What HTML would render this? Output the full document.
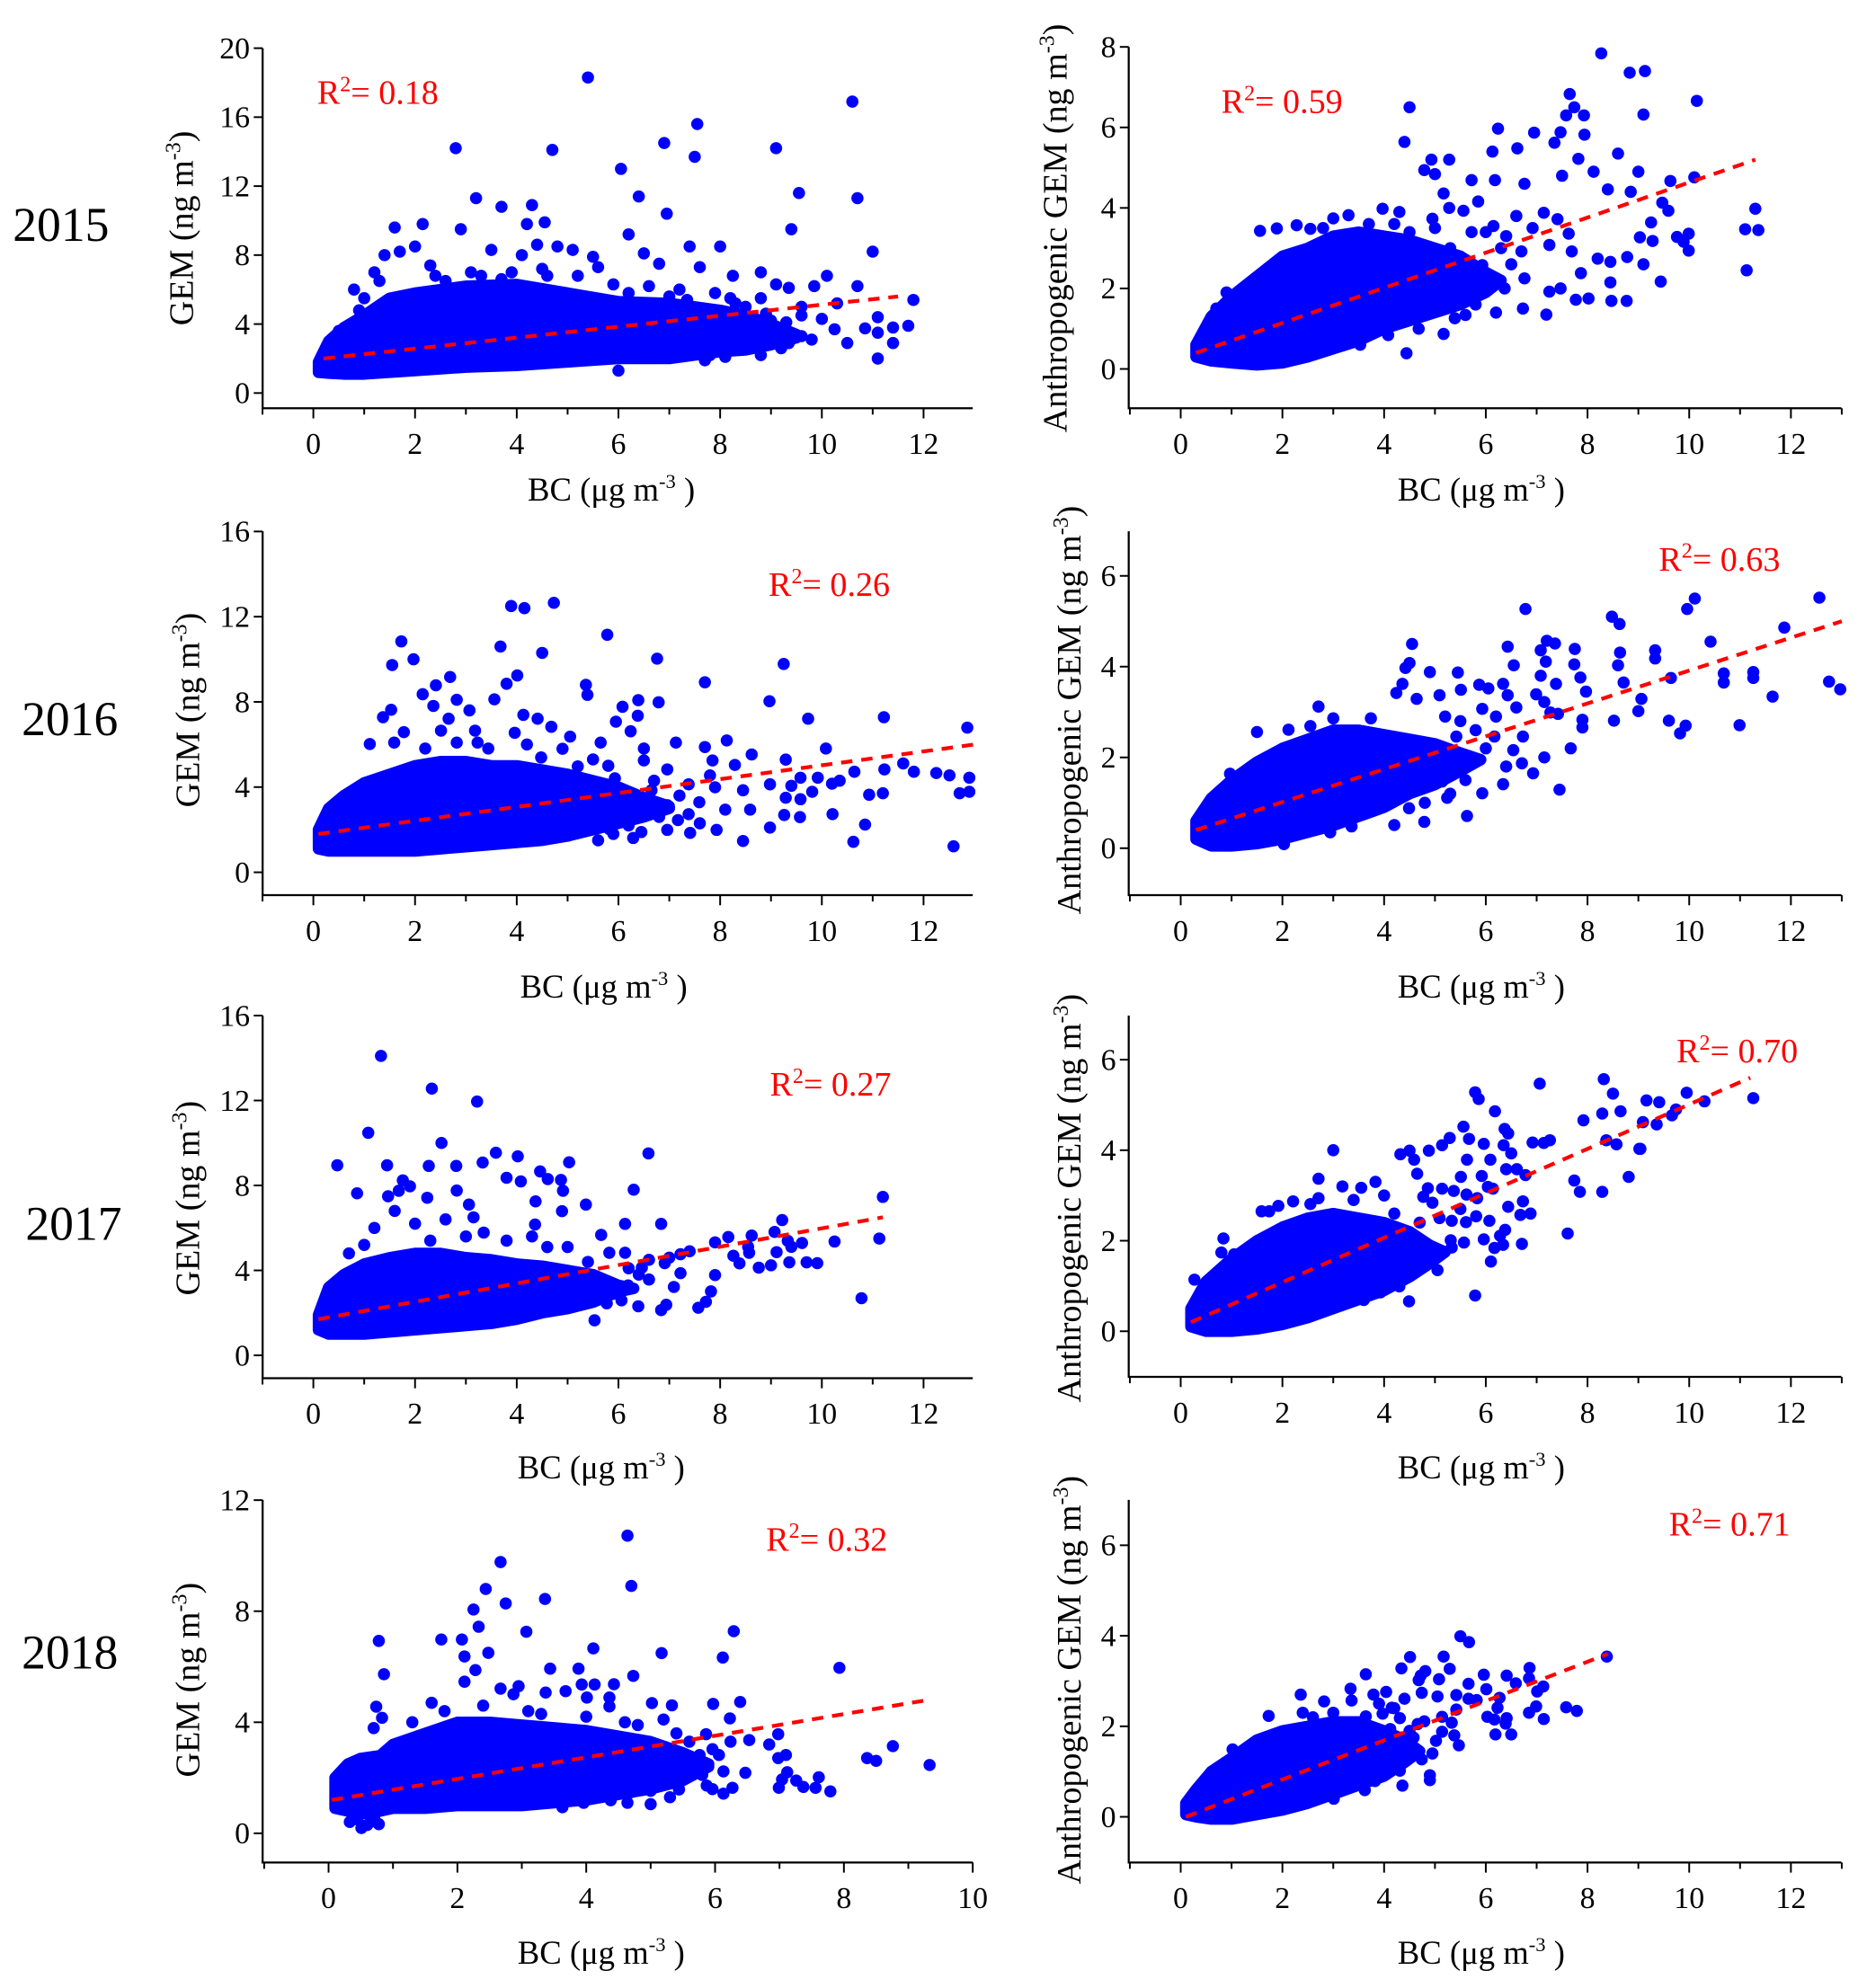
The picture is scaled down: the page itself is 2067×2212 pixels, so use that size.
<!DOCTYPE html>
<html><head><meta charset="utf-8"><style>
html,body{margin:0;padding:0;background:#fff}
svg{display:block}
text{font-family:"Liberation Serif",serif}
</style></head><body>
<svg id="fig" width="2067" height="2212" viewBox="0 0 1465 1568" xmlns="http://www.w3.org/2000/svg"></svg>
<script>
// ---------- DATA ----------
const xTicksWide = [0,2,4,6,8,10,12];
const xTicks2018L = [0,2,4,6,8,10];
const yTicksP1 = [0,4,8,12,16,20];
const yTicksP2 = [0,2,4,6,8];
const yTicksP3 = [0,4,8,12,16];
const yTicksP4 = [0,2,4,6];
const yTicksP7 = [0,4,8,12];
const r2Labels = ["0.18","0.59","0.26","0.63","0.27","0.70","0.32","0.71"];
const years = ["2015","2016","2017","2018"];

const p1CoreBC=[0.1,0.3,0.6,1,1.5,2,3,4,5,6,7,7.5,8,8.5,9,9.5];
const p1CoreHi=[1.8,3,3.8,4.5,5.5,5.8,6.2,6.3,5.8,5.3,5.2,5,4.8,4.5,4,3.4];
const p1CoreLo=[1.2,1.15,1.1,1.1,1.2,1.3,1.5,1.6,1.8,2.0,2.0,2.2,2.4,2.5,2.8,3.2];
const p1Pts=[[5.4,18.3],[10.6,16.9],[7.55,15.6],[2.8,14.2],[4.7,14.1],[6.9,14.5],[7.5,13.7],[9.1,14.2],[6.05,13],[6.4,11.4],[9.55,11.6],[10.7,11.3],[3.2,11.3],[3.7,10.8],[4.3,10.9],[6.95,10.4],[9.4,9.5],[11,8.2],[6.2,9.2],[1.6,9.6],[2.15,9.8],[2.9,9.5],[8,8.5],[7.4,8.5],[4.55,9.9],[6.5,8.1],[5.5,7.9],[8.8,7],[10.1,6.8],[10.7,6.2],[11.8,5.4],[11.7,3.9],[11.4,3.8],[10.85,3.75],[11.1,2],[10.5,2.9],[11.4,2.9],[11.1,3.5],[11.1,4.4],[10.25,3.7],[9.8,3.1],[9.35,2.9],[10,4.3],[9.3,4.1],[9.35,6.1],[9.1,6.3],[9.85,6.2],[6,1.3],[8.25,6.8],[7.8,2.2],[8.8,2.2],[8.4,2.7],[7.25,4.3],[6.9,3.5],[7.35,5.4],[0.8,6],[1.2,7],[1.4,8],[1.7,8.2],[2,8.5],[2.3,7.4],[2.6,6.5],[3.1,7],[3.5,8.3],[4.1,8],[4.2,9.8],[4.4,8.6],[4.8,8.5],[5.1,8.3],[5.6,7.3],[6.8,7.5],[7.6,7.3],[4.5,7.2],[3.3,6.8],[6.6,6.2],[7.2,6],[8.2,5.5],[8.5,5],[1,5.5],[1.3,6.5],[2.4,6.8],[3.9,7],[5.2,6.8],[5.9,6.3],[9.6,5],[10.3,5.2],[9,3.5],[9.6,3.3],[8.9,4.6],[7.7,3.2],[8.6,3.2],[9,4.2],[9.2,2.6],[8.3,5.2],[8.8,5.5],[7.9,5.8],[9.6,4.5],[0.5,3.6],[0.9,4.8],[4.6,6.8],[3.7,6.6],[6.2,5.8],[7,5.6],[7.7,1.9],[8.1,2.1]];
const p1FitX=[0.2,11.5], p1FitY=[2.0,5.6];

const p2CoreBC=[0.3,0.6,1,1.5,2,2.5,3,3.5,4,4.5,5,5.5,6,6.3];
const p2CoreHi=[0.6,1.3,1.8,2.3,2.8,3.0,3.3,3.4,3.3,3.2,3.0,2.8,2.4,2.2];
const p2CoreLo=[0.3,0.2,0.15,0.1,0.15,0.3,0.5,0.7,1.0,1.2,1.4,1.6,1.9,2.2];
const p2Pts=[[8.27,7.84],[8.83,7.36],[9.13,7.4],[10.15,6.66],[9.1,6.32],[4.5,6.5],[4.4,5.64],[7.65,6.83],[7.74,6.5],[7.58,6.3],[7.93,6.3],[6.24,5.97],[6.95,5.87],[7.35,5.62],[7.47,5.88],[7.94,5.82],[6.13,5.4],[6.62,5.48],[8.6,5.35],[4.93,5.2],[5.28,5.2],[4.79,4.94],[5,4.84],[7.82,5.22],[9,4.9],[8.12,4.9],[5.72,4.69],[6.18,4.69],[9.63,4.67],[10.1,4.76],[6.76,4.6],[7.5,4.8],[9.47,4.13],[8.85,4.4],[8.4,4.46],[11.3,3.98],[11.1,3.47],[11.36,3.45],[11.13,2.45],[9.25,3.64],[9.59,3.93],[9.03,3.27],[9.28,3.18],[9.76,3.28],[9.99,3.36],[9.89,3.16],[9.99,2.94],[9.1,2.6],[9.44,2.17],[8.77,1.69],[8.47,1.69],[7.77,1.72],[8.02,1.75],[7.19,1.35],[6.73,1.5],[4.44,0.39],[8.45,2.15],[7.87,2.38],[8.2,2.74],[8.78,2.78],[8.45,2.66],[7.25,1.92],[7.47,2],[7.69,2.92],[7.25,3.08],[7.63,3.36],[7.14,3.88],[7.41,3.72],[6.92,3.5],[6.7,2.92],[6.76,2.25],[6.37,2],[5.93,2.58],[5.72,3.4],[5.56,3.93],[5.85,4.16],[6.15,3.55],[5.17,4.36],[5.28,4],[4.3,3.9],[3.97,3.98],[3.3,3.82],[3,3.74],[2.55,3.48],[2.28,3.57],[1.56,3.43],[1.89,3.49],[5.17,0.87],[4.68,1],[5.39,1.26],[5.6,1.34],[4.5,1.42],[4.95,1.58],[4.08,0.84],[3.53,0.6],[3.2,0.68],[3.86,2.17],[4.4,2],[4.73,2.9],[4.5,3.4],[4.95,3.73],[6.3,3],[6.5,2.6],[5.5,2.4],[6,3.4],[5.3,3],[0.9,1.9],[0.7,1.5],[6.4,3.3],[6.0,2.1],[6.6,3.8],[5.8,1.6],[6.2,1.4],[5.0,3.5],[4.2,3.6],[3.7,3.6],[2.8,3.5]];
const p2FitX=[0.3,11.3], p2FitY=[0.4,5.2];

const p3CoreBC=[0.1,0.3,0.6,1,1.5,2,2.5,3,3.5,4,4.5,5,5.5,6,6.5,7];
const p3CoreHi=[2,3,3.6,4.2,4.6,5,5.2,5.2,5,5,4.8,4.6,4.3,4,3.5,3.1];
const p3CoreLo=[1.1,1,1,1,1,1,1.1,1.2,1.3,1.4,1.5,1.7,2,2.3,2.6,3.0];
const p3Pts=[[3.89,12.5],[4.15,12.4],[4.73,12.65],[5.78,11.15],[1.73,10.84],[3.68,10.6],[4.5,10.3],[1.97,10],[1.55,9.73],[6.76,10.03],[9.25,9.78],[4.01,9.24],[2.69,9.17],[7.7,8.92],[5.36,8.8],[2.41,8.78],[3.8,8.85],[2.15,8.36],[5.39,8.33],[2.82,8.1],[8.97,8.03],[6.79,7.98],[6.39,8.08],[3.56,8.12],[6.08,7.77],[2.36,7.81],[1.53,7.63],[3.07,7.6],[11.22,7.28],[9.73,7.21],[4.13,7.39],[4.41,7.21],[5.95,7.07],[6.38,7.35],[12.86,6.79],[6.24,6.62],[4.68,6.83],[3.96,6.55],[5.05,6.37],[5.65,6.09],[8.13,6.19],[10.08,5.81],[8.62,5.53],[7.13,6.09],[7.7,5.88],[7.85,5.25],[8.29,5.04],[9.29,5.29],[11.6,5.11],[11.23,4.83],[11.81,4.72],[12.25,4.66],[12.51,4.55],[12.9,4.44],[10.64,4.72],[9.92,4.44],[9.58,4.44],[8.98,4.13],[9.4,4.06],[10.2,4.16],[10.35,4.3],[9.81,3.78],[9.58,3.43],[9.29,3.5],[10.93,3.64],[11.2,3.71],[12.71,3.71],[12.9,3.78],[8.45,3.85],[8.59,2.94],[8.1,2.94],[9.26,2.69],[9.57,2.59],[10.21,2.73],[10.85,2.24],[8.98,2.1],[7.93,1.99],[7.41,1.85],[6.96,1.99],[8.45,1.47],[10.62,1.43],[12.59,1.22],[5.6,1.5],[6.29,1.61],[6.45,1.89],[5.82,2.03],[7.17,2.45],[7.38,2.73],[6.96,3.15],[7.59,3.29],[6.65,3.85],[7.38,4.13],[7.9,3.99],[7.8,4.55],[6.96,4.83],[6.5,5.25],[6.5,5.81],[5.93,4.41],[5.2,4.97],[4.48,5.39],[3.44,5.81],[2.82,6.09],[2.2,5.81],[1.59,6.09],[1.11,6.02],[1.37,7.28],[1.78,6.58],[2.51,6.65],[3.18,6.65],[2.66,7.21],[3.23,6.09],[4.2,6],[4.9,5.8],[5.5,5.3],[6.8,2.6],[7.2,3.6],[6.2,2.2],[5.9,1.8],[7.6,2.3],[6.7,4.3],[5.8,5.0]];
const p3FitX=[0.1,13], p3FitY=[1.8,6.0];

const p4CoreBC=[0.3,0.6,1,1.5,2,2.5,3,3.5,4,4.5,5,5.5,5.9];
const p4CoreHi=[0.6,1.1,1.5,1.9,2.2,2.4,2.6,2.6,2.5,2.4,2.3,2.1,1.95];
const p4CoreLo=[0.2,0.05,0.05,0.1,0.2,0.35,0.5,0.7,0.9,1.2,1.4,1.7,1.95];
const p4Pts=[[6.78,5.27],[10.11,5.5],[9.96,5.27],[12.56,5.52],[8.48,5.1],[8.63,4.94],[11.87,4.86],[4.55,4.5],[7.2,4.57],[7.36,4.51],[6.43,4.44],[7.75,4.39],[7.08,4.36],[9.33,4.36],[10.42,4.55],[8.64,4.31],[9.33,4.18],[7.18,4.11],[4.5,4.08],[6.55,4.03],[7.74,4.05],[8.6,4.03],[4.42,3.97],[4.9,3.88],[5.45,3.87],[7.08,3.8],[7.86,3.76],[10.68,3.85],[11.26,3.88],[9.64,3.75],[12.75,3.67],[12.97,3.5],[10.68,3.65],[11.26,3.75],[8.71,3.65],[7.38,3.62],[7.97,3.45],[6.34,3.62],[5.87,3.6],[6.05,3.52],[5.51,3.49],[4.36,3.62],[4.24,3.42],[5.09,3.37],[9.06,3.29],[6.99,3.39],[7.15,3.22],[6.43,3.37],[11.64,3.34],[9,3.02],[8.52,2.81],[9.6,2.81],[9.93,2.7],[10.99,2.71],[9.82,2.53],[4.64,3.29],[5.93,3.07],[7.27,2.99],[7.9,2.83],[7.9,2.66],[7.42,2.96],[7.45,1.29],[6.93,1.65],[6.71,1.87],[6.34,1.41],[5.93,1.21],[5.63,0.71],[4.79,0.58],[4.2,0.51],[5.24,1.11],[7.15,2],[7.67,2.2],[6.54,2.16],[6.17,2.46],[6.73,2.46],[5.42,2.46],[5.79,1.93],[5.14,1.47],[4.67,1.47],[4.95,2.07],[4.3,2.07],[3.93,1.27],[4.49,0.88],[3.46,0.88],[2.94,0.35],[3.36,0.48],[2.71,3.12],[1.5,2.56],[2.12,2.61],[2.55,2.69],[3,2.86],[3.74,2.86],[0.97,1.64],[0.87,1.31],[0.37,0.65],[2.03,0.09],[5.5,2.8],[5.8,2.6],[5.2,2.9],[6.2,2.9],[5.6,1.5],[6.0,2.2],[6.4,1.8],[5.3,1.2],[4.8,1.0],[4.0,1.0],[6.6,3.1]];
const p4FitX=[0.3,13], p4FitY=[0.4,5.0];

const p5CoreBC=[0.1,0.3,0.6,1,1.5,2,2.5,3,3.5,4,4.5,5,5.5,6,6.3];
const p5CoreHi=[1.9,3.2,3.8,4.3,4.6,4.8,4.8,4.6,4.5,4.3,4.2,4,3.8,3.3,3.15];
const p5CoreLo=[1.2,1,1,1,1.1,1.2,1.3,1.4,1.5,1.7,2,2.2,2.5,3.0,3.15];
const p5Pts=[[1.33,14.1],[2.33,12.56],[3.22,11.95],[1.08,10.48],[2.52,10],[6.59,9.51],[3.59,9.54],[4.02,9.37],[0.47,8.95],[1.45,8.95],[5.03,9.09],[3.33,9.08],[2.81,8.92],[2.27,8.92],[4.46,8.66],[4.87,8.26],[4.61,8.3],[3.8,8.36],[4.08,8.19],[1.76,8.24],[1.9,7.96],[6.3,7.8],[4.91,7.75],[2.82,7.76],[1.68,7.75],[0.86,7.63],[2.24,7.42],[11.2,7.46],[1.47,7.49],[3.06,7.1],[5.36,7.1],[4.37,7.25],[3.15,6.5],[4.89,6.79],[6.13,6.19],[6.84,6.19],[9.22,6.37],[4.36,6.16],[3.35,5.78],[5.66,5.67],[8.16,5.57],[8.62,5.64],[9.07,5.81],[11.13,5.5],[7.9,5.32],[9.33,5.39],[9.61,5.29],[10.25,5.36],[8.55,5.11],[9.11,4.86],[9.4,5.11],[8.26,4.69],[8.57,4.83],[8.76,4.13],[9,4.24],[9.36,4.38],[9.7,4.38],[9.91,4.34],[8.38,4.33],[7.9,3.78],[7.22,3.87],[7.82,3.01],[7.72,2.52],[7.57,2.24],[7.09,3.22],[6.94,2.38],[6.84,2.13],[10.78,2.69],[6.39,2.31],[6.06,2.59],[5.77,2.45],[5.53,1.65],[5.15,2.45],[4.87,2.17],[6.19,3.29],[6.6,3.57],[6.91,4.34],[7.22,4.76],[6.46,4.13],[5.82,4.83],[6.13,4.83],[1.2,6],[1.6,6.8],[2,6.2],[2.6,6.4],[3,5.6],[3.8,5.4],[4.3,5.6],[1.0,5.2],[0.7,4.8],[5.4,4.4],[6.2,4.1],[6.6,4.5],[7.0,4.6],[7.4,4.9],[6.4,3.8],[5.9,2.9],[4.6,5.1],[5.0,5.1],[2.3,5.4]];
const p5FitX=[0.1,11.2], p5FitY=[1.7,6.5];

const p6CoreBC=[0.2,0.5,1,1.5,2,2.5,3,3.5,4,4.5,4.9,5.2];
const p6CoreHi=[0.5,1.1,1.6,2.0,2.3,2.5,2.6,2.5,2.4,2.2,1.9,1.75];
const p6CoreLo=[0.1,0,0,0.05,0.15,0.3,0.5,0.7,0.9,1.2,1.5,1.75];
const p6Pts=[[8.32,5.57],[7.06,5.47],[5.79,5.28],[5.86,5.13],[8.5,5.25],[9.95,5.27],[9.16,5.1],[9.41,5.06],[10.3,5.08],[11.26,5.15],[6.18,4.86],[8.65,4.86],[8.29,4.81],[9.74,4.9],[9.66,4.77],[7.92,4.66],[9.09,4.62],[9.36,4.57],[5.56,4.52],[6.37,4.47],[6.44,4.37],[5.67,4.25],[5.29,4.27],[6.92,4.17],[7.14,4.16],[7.26,4.22],[8.37,4.22],[8.57,4.13],[9.04,4.03],[3,4],[5.96,4.14],[6.35,4.11],[5.14,4.11],[4.88,3.99],[4.32,3.91],[4.5,3.99],[4.59,3.79],[5.63,3.79],[6.09,3.79],[6.5,3.93],[6.4,3.58],[6.61,3.58],[6.78,3.45],[5.51,3.41],[5.92,3.43],[4.65,3.48],[7.74,3.33],[7.85,3.08],[8.29,3.08],[8.81,3.41],[9.02,4.03],[6.04,3.19],[6.14,3.15],[5.62,3.02],[5.83,2.94],[4.86,3.16],[5.14,3.15],[5.37,3.1],[4.77,2.97],[4.95,2.84],[5.09,2.5],[5.33,2.44],[5.61,2.41],[5.81,2.54],[6.07,2.44],[6.44,2.75],[6.73,2.87],[6.68,2.57],[6.88,2.6],[7.61,2.16],[6.38,2.24],[6.28,2.11],[5.96,2.03],[5.57,1.96],[5.31,2.01],[5.33,1.85],[6.17,1.84],[6.34,1.91],[6.71,1.93],[6.1,1.54],[5.05,1.35],[5.79,0.79],[4.49,1.58],[4.67,1.72],[4.3,0.99],[4.49,0.66],[3.93,0.86],[3.6,0.69],[3.32,0.79],[3.83,3.3],[3.55,3.17],[3.18,3.2],[2.71,3.37],[2.71,2.94],[2.55,2.81],[2.21,2.87],[1.92,2.77],[1.59,2.65],[1.74,2.65],[0.84,2.05],[0.8,1.74],[1.05,1.7],[0.27,1.14],[4.2,2.6],[4.4,2.2],[4,1.8],[4.0,3.0],[3.4,2.9],[4.2,1.3],[3.7,1.1],[5.5,2.7],[4.7,2.4]];
const p6FitX=[0.2,11.2], p6FitY=[0.2,5.6];

const p7CoreBC=[0.1,0.3,0.5,0.8,1,1.5,2,2.5,3,3.5,4,4.5,5,5.5,5.9];
const p7CoreHi=[2,2.5,2.7,2.8,3.2,3.6,4,4,3.9,3.8,3.7,3.5,3.3,2.9,2.5];
const p7CoreLo=[0.9,0.8,0.7,0.8,0.9,0.9,1,1,1,1.1,1.2,1.4,1.6,1.9,2.4];
const p7Pts=[[4.64,10.72],[2.67,9.77],[4.7,8.91],[2.44,8.8],[3.36,8.44],[2.75,8.28],[2.25,8.06],[2.33,7.44],[6.29,7.28],[3.07,7.26],[0.78,6.93],[1.75,6.98],[2.07,6.98],[4.11,6.66],[2.48,6.5],[5.17,6.49],[2.11,6.37],[6.12,6.33],[7.93,5.96],[0.86,5.73],[2.28,5.88],[3.44,5.93],[3.88,5.93],[4.73,5.67],[2.11,5.46],[3.93,5.36],[4.13,5.36],[4.43,5.37],[2.67,5.21],[2.95,5.3],[3.37,5.07],[3.68,5.12],[2.87,5.01],[4.01,4.89],[4.36,4.89],[6.39,4.73],[5.97,4.66],[5.33,4.61],[5.02,4.69],[4.36,4.57],[0.74,4.56],[1.6,4.7],[0.83,4.16],[6.23,4.14],[0.7,3.79],[6.98,3.57],[6.84,3.2],[8.76,3.14],[8.36,2.71],[8.5,2.61],[9.33,2.46],[7.1,2.82],[6.98,2.71],[6.47,2.18],[6.13,2.23],[7.12,2.2],[7.61,2.02],[7.04,1.94],[7.26,1.9],[7.37,1.67],[7.56,1.64],[7.79,1.51],[6.99,1.64],[5.87,1.72],[5.96,1.59],[6.13,1.43],[6.27,1.64],[5.44,1.58],[5.22,1.8],[5,1.53],[5,1.05],[4.64,1.1],[4.38,1.19],[4.69,1.48],[5.96,3.03],[5.86,3.57],[6.24,3.3],[6.53,3.36],[5.63,2.61],[5.33,2.39],[5.51,2.82],[5.76,2.82],[6.06,2.82],[4.94,2.61],[4.73,2.18],[4.12,1.96],[3.8,1.53],[3.47,1.21],[3.96,1.1],[3.63,0.94],[0.33,0.41],[0.65,0.41],[0.78,0.33],[0.51,0.19],[0.71,0.62],[0.5,1.55],[0.6,0.3],[0.45,0.5],[1.8,4.4],[2.4,4.6],[3.1,4.4],[1.3,4.0],[5.4,3.6],[5.2,4.1],[4.6,4.0],[5.6,3.3],[5.8,2.1],[5.3,1.3],[4.8,3.9],[4.0,4.2],[3.3,4.3]];
const p7FitX=[0.05,9.3], p7FitY=[1.2,4.8];

const p8CoreBC=[0.1,0.3,0.6,1,1.5,2,2.5,3,3.5,4,4.4,4.7];
const p8CoreHi=[0.3,0.6,1,1.3,1.7,1.9,2,2.1,2.1,1.9,1.7,1.45];
const p8CoreLo=[0.05,0,-0.05,-0.05,0.05,0.15,0.3,0.5,0.7,0.9,1.2,1.45];
const p8Pts=[[5.5,3.99],[5.67,3.86],[8.38,3.54],[4.51,3.53],[5.17,3.54],[4.34,3.28],[5.29,3.27],[4.81,3.22],[4.72,3.12],[3.64,3.15],[4.68,3.02],[5.08,3.04],[6.86,3.29],[5.96,3.14],[6.41,3.12],[6.59,2.95],[5.66,2.94],[6.85,3.06],[6.01,2.82],[3.34,2.83],[7.13,2.88],[7.01,2.77],[2.36,2.7],[3.79,2.7],[4.04,2.76],[4.4,2.61],[4.74,2.74],[5.05,2.66],[5.42,2.69],[5.82,2.58],[6.27,2.63],[2.82,2.55],[3.36,2.57],[4.15,2.41],[6.99,2.44],[7.58,2.42],[7.79,2.34],[6.85,2.3],[6.23,2.41],[5.66,2.61],[5.42,2.37],[5.33,2.08],[5.14,2.21],[4.79,2.11],[4.66,2.05],[4.31,2.18],[3.97,2.28],[3.64,2.22],[6.03,2.21],[6.17,2.15],[6.39,2.06],[6.41,2.18],[7.14,2.16],[6.19,1.82],[6.5,1.82],[5.38,1.8],[5.14,1.88],[5.47,1.58],[5.02,1.68],[4.95,1.4],[4.74,1.27],[4.38,1.22],[4.31,1.02],[4.9,0.92],[4.9,0.81],[4.36,0.69],[3.62,0.59],[3.82,0.79],[3.01,0.4],[2.73,0.43],[2.29,0.26],[1.73,2.23],[1.02,1.49],[0.94,1.14],[4.33,1.75],[4.58,1.75],[4.12,1.94],[3.0,2.3],[2.6,2.2],[4.2,2.4],[3.3,2.0],[4.0,1.4],[3.7,1.0],[4.5,1.9],[2.4,2.3],[3.9,2.5],[4.6,1.5]];
const p8FitX=[0.1,8.4], p8FitY=[0.0,3.6];

// ---------- LAYOUT (pixel config, not data) ----------
const panels=[
 {id:"2015-gem",L:207,R:767,T:38,B:322,x0:247,xp:40.1,y0:310,yp:13.6,xt:xTicksWide,yt:yTicksP1,core:[p1CoreBC,p1CoreHi,p1CoreLo],pts:p1Pts,fx:p1FitX,fy:p1FitY,r2:r2Labels[0],r2x:250,r2y:82,ytitle:"GEM",ytx:143,tyc:180,bcx:482,bcy:395},
 {id:"2015-anthro",L:890,R:1452,T:37,B:322,x0:931,xp:40.1,y0:291,yp:31.75,xt:xTicksWide,yt:yTicksP2,core:[p2CoreBC,p2CoreHi,p2CoreLo],pts:p2Pts,fx:p2FitX,fy:p2FitY,r2:r2Labels[1],r2x:963,r2y:89,ytitle:"Anthropogenic GEM",ytx:832,tyc:180,bcx:1168,bcy:395},
 {id:"2016-gem",L:207,R:767,T:419,B:706,x0:247,xp:40.1,y0:688,yp:16.8,xt:xTicksWide,yt:yTicksP3,core:[p3CoreBC,p3CoreHi,p3CoreLo],pts:p3Pts,fx:p3FitX,fy:p3FitY,r2:r2Labels[2],r2x:606,r2y:470,ytitle:"GEM",ytx:148,tyc:560,bcx:476,bcy:787},
 {id:"2016-anthro",L:890,R:1452,T:419,B:706,x0:931,xp:40.1,y0:669,yp:35.8,xt:xTicksWide,yt:yTicksP4,core:[p4CoreBC,p4CoreHi,p4CoreLo],pts:p4Pts,fx:p4FitX,fy:p4FitY,r2:r2Labels[3],r2x:1308,r2y:450,ytitle:"Anthropogenic GEM",ytx:843,tyc:560,bcx:1168,bcy:787},
 {id:"2017-gem",L:207,R:767,T:801,B:1087,x0:247,xp:40.1,y0:1069,yp:16.75,xt:xTicksWide,yt:yTicksP3,core:[p5CoreBC,p5CoreHi,p5CoreLo],pts:p5Pts,fx:p5FitX,fy:p5FitY,r2:r2Labels[4],r2x:607,r2y:864,ytitle:"GEM",ytx:148,tyc:945,bcx:474,bcy:1166},
 {id:"2017-anthro",L:890,R:1452,T:801,B:1086,x0:931,xp:40.1,y0:1050,yp:35.7,xt:xTicksWide,yt:yTicksP4,core:[p6CoreBC,p6CoreHi,p6CoreLo],pts:p6Pts,fx:p6FitX,fy:p6FitY,r2:r2Labels[5],r2x:1322,r2y:838,ytitle:"Anthropogenic GEM",ytx:843,tyc:945,bcx:1168,bcy:1166},
 {id:"2018-gem",L:207,R:767,T:1183,B:1469,x0:259,xp:50.8,y0:1446,yp:21.9,xt:xTicks2018L,yt:yTicksP7,core:[p7CoreBC,p7CoreHi,p7CoreLo],pts:p7Pts,fx:p7FitX,fy:p7FitY,r2:r2Labels[6],r2x:604,r2y:1223,ytitle:"GEM",ytx:148,tyc:1325,bcx:474,bcy:1549},
 {id:"2018-anthro",L:890,R:1452,T:1183,B:1469,x0:931,xp:40.1,y0:1433,yp:35.7,xt:xTicksWide,yt:yTicksP4,core:[p8CoreBC,p8CoreHi,p8CoreLo],pts:p8Pts,fx:p8FitX,fy:p8FitY,r2:r2Labels[7],r2x:1316,r2y:1211,ytitle:"Anthropogenic GEM",ytx:843,tyc:1325,bcx:1168,bcy:1549}
];
const yearPos=[[48,190],[55,580],[58,978],[55,1316]];

const NS="http://www.w3.org/2000/svg";
const svg=document.getElementById('fig');
function mk(tag,attrs,parent){const e=document.createElementNS(NS,tag);for(const k in attrs)e.setAttribute(k,attrs[k]);(parent||svg).appendChild(e);return e;}

years.forEach((y,i)=>{
  const t=mk('text',{x:yearPos[i][0],y:yearPos[i][1],'font-size':38,'text-anchor':'middle',fill:'#000'});
  
  
  t.textContent=y;
});

panels.forEach(p=>{
  const g=mk('g',{});
  
  
  const sx=v=>p.x0+v*p.xp, sy=v=>p.y0-v*p.yp;
  const [bc,hi,lo]=p.core;
  let pts=[];
  for(let i=0;i<bc.length;i++)pts.push(sx(bc[i])+','+sy(hi[i]));
  for(let i=bc.length-1;i>=0;i--)pts.push(sx(bc[i])+','+sy(lo[i]));
  const poly=mk('polygon',{points:pts.join(' '),fill:'#0000ff',stroke:'#0000ff','stroke-width':9,'stroke-linejoin':'round'},g);
  
  
  const pg=mk('g',{fill:'#0000ff'},g);
  
  
  p.pts.forEach(d=>{
    const c=mk('circle',{cx:sx(d[0]),cy:sy(d[1]),r:4.8},pg);
    
    
  });
  const ln=mk('line',{x1:sx(p.fx[0]),y1:sy(p.fy[0]),x2:sx(p.fx[1]),y2:sy(p.fy[1]),stroke:'#ff0000','stroke-width':3,'stroke-dasharray':'9,7'},g);
  
  
  const ax=mk('path',{d:`M${p.L},${p.T}V${p.B}H${p.R}`,fill:'none',stroke:'#000','stroke-width':1.6},g);
  
  
  const xmaxTick=p.xt[p.xt.length-1];
  for(let v=-1;v<=xmaxTick+1;v++){
    const x=sx(v); if(x<p.L-0.5||x>p.R+0.5)continue;
    const major=(v%2===0);
    mk('line',{x1:x,y1:p.B,x2:x,y2:p.B+(major?8:5),stroke:'#000','stroke-width':1.4},g);
  }
  p.xt.forEach(v=>{
    const t=mk('text',{x:sx(v),y:p.B+36,'font-size':24,'text-anchor':'middle'},g);
    
    
    t.textContent=v;
  });
  p.yt.forEach(v=>{
    const y=sy(v);
    mk('line',{x1:p.L,y1:y,x2:p.L-7,y2:y,stroke:'#000','stroke-width':1.4},g);
    const t=mk('text',{x:p.L-10,y:y+8,'font-size':24,'text-anchor':'end'},g);
    
    
    t.textContent=v;
  });
  const xt=mk('text',{x:p.bcx,y:p.bcy,'font-size':26,'text-anchor':'middle'},g);
  
  
  xt.innerHTML='BC (\u03bcg m<tspan dy="-10" font-size="16">-3</tspan><tspan dy="10"> )</tspan>';
  const yt=mk('text',{x:0,y:0,'font-size':27,'text-anchor':'middle',transform:`translate(${p.ytx+9},${p.tyc}) rotate(-90)`},g);
  
  
  yt.innerHTML=p.ytitle+' (ng m<tspan dy="-10" font-size="17">-3</tspan><tspan dy="10">)</tspan>';
  const r=mk('text',{x:p.r2x,y:p.r2y,'font-size':27,fill:'#ff0000'},g);
  
  
  r.innerHTML='R<tspan dy="-10" font-size="17">2</tspan><tspan dy="10">= '+p.r2+'</tspan>';
});
</script>
</body></html>
